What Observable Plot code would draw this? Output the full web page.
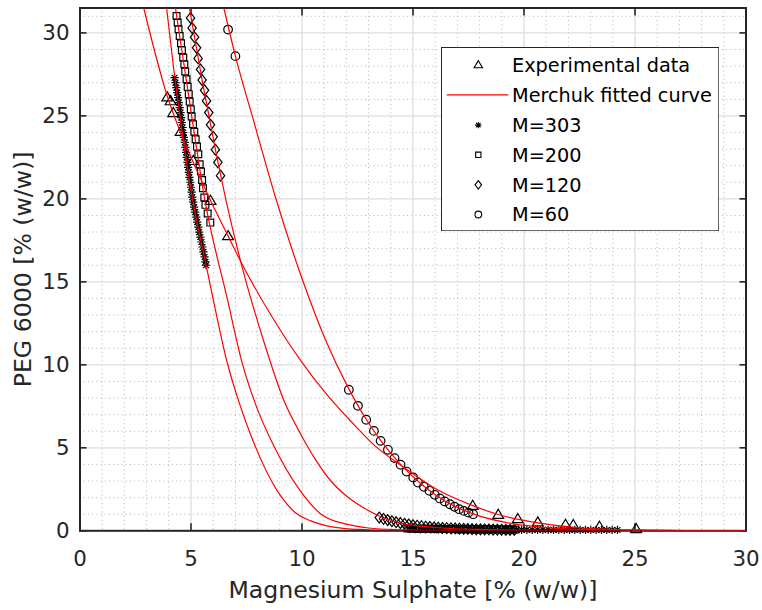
<!DOCTYPE html>
<html><head><meta charset="utf-8">
<script src="https://cdn.jsdelivr.net/npm/d3@7"></script>
<script src="https://cdn.jsdelivr.net/npm/@observablehq/plot@0.6"></script>
<style>
body{margin:0;background:#fff;}
#wrap{position:relative;width:762px;height:610px;font-family:"DejaVu Sans",sans-serif;}
#legend{position:absolute;left:441px;top:47px;}
</style></head>
<body><div id="wrap"><div id="legend"></div></div>
<script>
// ---- axis ticks ----
const xMajor = [0,5,10,15,20,25,30];
const yMajor = [0,5,10,15,20,25,30];
const xMinor = [1,2,3,4,6,7,8,9,11,12,13,14,16,17,18,19,21,22,23,24,26,27,28,29];
const yMinor = [1,2,3,4,6,7,8,9,11,12,13,14,16,17,18,19,21,22,23,24,26,27,28,29,31];
const xLabel = "Magnesium Sulphate [% (w/w)]";
const yLabel = "PEG 6000 [% (w/w)]";
const legendLabels = ["Experimental data","Merchuk fitted curve","M=303","M=200","M=120","M=60"];

// ---- experimental data (triangles) ----
const expX = [3.93,4.08,4.2,4.53,5.1,5.88,6.67,17.69,18.84,19.72,20.62,21.87,22.22,23.4,25.05];
const expY = [26.13,25.9,25.19,24.05,22.3,19.9,17.77,1.52,0.98,0.72,0.52,0.38,0.36,0.26,0.12];

// ---- M=303 (asterisks) ----
const m303TopX = [4.26,4.30,4.34,4.38,4.42,4.45,4.49,4.53,4.56,4.59,4.62,4.65,4.68,4.72,4.75,4.78,4.81,4.84,4.87,4.90,4.93,4.97,5.00,5.03,5.06,5.10,5.14,5.19,5.24,5.28,5.33,5.37,5.42,5.47,5.52,5.56,5.61,5.65,5.68];
const m303TopY = [27.3,27.0,26.7,26.4,26.1,25.8,25.5,25.2,24.9,24.6,24.3,24.0,23.7,23.4,23.1,22.8,22.5,22.2,21.9,21.6,21.3,21.0,20.7,20.4,20.1,19.8,19.5,19.2,18.9,18.6,18.3,18.0,17.7,17.4,17.1,16.8,16.5,16.2,16.0];
const m303BotX = [14.85,15.09,15.33,15.57,15.81,16.05,16.29,16.53,16.77,17.01,17.25,17.49,17.73,17.97,18.21,18.45,18.69,18.93,19.17,19.41,19.65,19.89,20.13,20.37,20.61,20.85,21.09,21.33,21.57,21.81,22.05,22.29,22.53,22.77,23.01,23.25,23.49,23.73,23.97,24.21];
const m303BotY = [0.1,0.1,0.09,0.09,0.09,0.09,0.08,0.08,0.08,0.08,0.08,0.08,0.07,0.07,0.07,0.07,0.07,0.07,0.07,0.07,0.06,0.06,0.06,0.06,0.06,0.06,0.06,0.06,0.06,0.05,0.05,0.05,0.05,0.05,0.05,0.05,0.05,0.05,0.05,0.05];

// ---- M=200 (squares) ----
const m200TopX = [4.35,4.40,4.44,4.49,4.55,4.59,4.65,4.70,4.74,4.80,4.85,4.90,4.94,4.99,5.03,5.09,5.15,5.21,5.27,5.33,5.39,5.45,5.50,5.54,5.60,5.65,5.75,5.87];
const m200TopY = [31.02,30.62,30.22,29.82,29.38,28.96,28.51,28.11,27.67,27.21,26.75,26.31,25.86,25.40,24.96,24.50,24.04,23.59,23.15,22.69,22.09,21.65,21.14,20.64,20.08,19.64,19.12,18.57];
const m200BotX = [14.75,14.93,15.11,15.29,15.47,15.65,15.83,16.01,16.19,16.37,16.55,16.73,16.91,17.09,17.27,17.45,17.63,17.81,17.99,18.17,18.35,18.53,18.71,18.89,19.07,19.25,19.43,19.61];
const m200BotY = [0.14,0.14,0.13,0.13,0.13,0.12,0.12,0.12,0.12,0.11,0.11,0.11,0.11,0.1,0.1,0.1,0.1,0.1,0.09,0.09,0.09,0.09,0.09,0.09,0.08,0.08,0.08,0.08];

// ---- M=120 (diamonds) ----
const m120TopX = [4.98,5.05,5.16,5.25,5.32,5.43,5.50,5.61,5.70,5.80,5.88,6.00,6.10,6.21,6.33];
const m120TopY = [30.9,30.3,29.74,29.1,28.46,27.8,27.16,26.54,25.9,25.2,24.46,23.74,22.96,22.2,21.4];
const m120BotX = [13.48,13.67,13.86,14.05,14.24,14.43,14.62,14.81,15.0,15.19,15.38,15.57,15.76,15.95,16.14,16.33,16.52,16.71,16.9,17.09,17.28,17.47,17.66,17.85,18.04,18.23,18.42,18.61,18.8,18.99,19.18,19.37,19.56];
const m120BotY = [0.8,0.72,0.65,0.58,0.52,0.47,0.42,0.38,0.34,0.31,0.28,0.25,0.23,0.21,0.19,0.17,0.16,0.15,0.14,0.13,0.12,0.11,0.1,0.09,0.09,0.08,0.08,0.07,0.07,0.06,0.06,0.05,0.05];

// ---- M=60 (circles) ----
const m60TopX = [6.67,7.0];
const m60TopY = [30.2,28.6];
const m60BotX = [12.11,12.52,12.89,13.24,13.54,13.87,14.17,14.44,14.71,15.01,15.22,15.49,15.74,15.98,16.21,16.43,16.66,16.87,17.08,17.29,17.5,17.71];
const m60BotY = [8.5,7.53,6.69,6.02,5.42,4.88,4.38,3.98,3.57,3.21,2.91,2.65,2.41,2.17,1.95,1.77,1.6,1.45,1.3,1.2,1.1,1.0];

// ---- Merchuk fitted curves ----
const fitExpX = [2.87,3.93,4.53,5.1,5.88,6.67,7.25,8.6,9.95,11.0,12.2,13.3,14.45,16.0,17.69,18.84,20.62,22.6,25.05,27.5,30];
const fitExpY = [31.5,26.2,24.0,22.2,19.9,17.77,16.2,13.0,10.24,8.4,6.6,5.1,3.95,2.55,1.52,0.98,0.48,0.17,0.05,0.015,0.004];
const fit303X = [3.9,4.26,4.5,5.07,5.68,6.0,6.62,7.2,7.8,8.88,9.18,9.65,10.4,11.3,12.5,14,16,20,30];
const fit303Y = [31.5,27.4,25.0,20.0,16.0,13.95,10.2,7.6,5.4,2.42,1.85,1.15,0.6,0.25,0.08,0.02,0.005,0.001,0];
const fit200X = [4.3,5.03,5.6,6.65,7.28,8.0,8.7,9.9,10.86,12,13,14.5,16,18,30];
const fit200Y = [31.5,25.0,20.1,13.9,10.24,7.3,5.2,2.45,1.0,0.4,0.17,0.06,0.02,0.005,0];
const fit120X = [4.93,5.5,6.1,6.58,7.4,8.27,9.2,9.95,10.6,11.3,12.0,12.7,13.5,14.5,16,18,20,22,25,30];
const fit120Y = [31.5,27.16,22.96,19.9,15.4,11.45,7.8,5.8,4.3,3.0,2.1,1.45,0.88,0.45,0.2,0.08,0.035,0.012,0.003,0];
const fit60X = [6.48,7.0,7.8,8.85,10.0,11.06,12.11,12.89,13.54,14.44,15.49,16.43,17.71,19.0,20.5,22.6,25,30];
const fit60Y = [31.5,28.6,24.8,19.9,15.2,11.5,8.55,6.72,5.45,4.0,2.68,1.8,1.02,0.55,0.25,0.08,0.02,0];

// ---- marker shapes (MATLAB-like) ----
const shapes = {
  tri(c,k){c.moveTo(0,-5.3*k);c.lineTo(5.4*k,3.8*k);c.lineTo(-5.4*k,3.8*k);c.closePath();},
  sq(c,k){const h=3.4*k;c.moveTo(-h,-h);c.lineTo(h,-h);c.lineTo(h,h);c.lineTo(-h,h);c.closePath();},
  dia(c,k){c.moveTo(0,-5.4*k);c.lineTo(4.2*k,0);c.lineTo(0,5.4*k);c.lineTo(-4.2*k,0);c.closePath();},
  circ(c,k){const r=4.3*k;c.moveTo(r,0);c.arc(0,0,r,0,2*Math.PI);c.closePath();},
  ast(c,k){const a=4.1*k,b=2.9*k;c.moveTo(0,-a);c.lineTo(0,a);c.moveTo(-a,0);c.lineTo(a,0);c.moveTo(-b,-b);c.lineTo(b,b);c.moveTo(-b,b);c.lineTo(b,-b);}
};
const sym = f => ({draw(ctx,size){f(ctx,Math.sqrt(size/Math.PI)/4);}});

const tab = (xs,ys) => xs.map((x,i)=>({x,y:ys[i]}));
const curves = [
  ...tab(fitExpX,fitExpY).map(d=>({...d,s:"exp"})),
  ...tab(fit303X,fit303Y).map(d=>({...d,s:"303"})),
  ...tab(fit200X,fit200Y).map(d=>({...d,s:"200"})),
  ...tab(fit120X,fit120Y).map(d=>({...d,s:"120"})),
  ...tab(fit60X,fit60Y).map(d=>({...d,s:"60"}))
];
const dotOpts = (shape) => ({x:"x",y:"y",r:4,symbol:sym(shapes[shape]),stroke:"black",fill:"none",strokeWidth:1.2});
const ink = "#262626";

const chart = Plot.plot({
  width: 762, height: 610,
  marginLeft: 79.5, marginRight: 16.5, marginTop: 7.5, marginBottom: 79.7,
  x: {domain:[0,30]},
  y: {domain:[0,31.5]},
  style: {fontFamily:"DejaVu Sans", fontSize:"21.4px", color: ink, background:"white", overflow:"visible"},
  marks: [
    Plot.gridX(xMinor,{stroke:"#b4b4b4",strokeOpacity:1,strokeWidth:1,strokeDasharray:"1,3.2"}),
    Plot.gridY(yMinor,{stroke:"#b4b4b4",strokeOpacity:1,strokeWidth:1,strokeDasharray:"1,3.2"}),
    Plot.gridX(xMajor,{stroke:"#dedede",strokeOpacity:1,strokeWidth:1.3}),
    Plot.gridY(yMajor,{stroke:"#dedede",strokeOpacity:1,strokeWidth:1.3}),
    Plot.frame({stroke:ink,strokeWidth:2}),
    Plot.axisX(xMajor,{anchor:"bottom",tickSize:7,dy:-7,tickFormat:()=>"",label:null,strokeWidth:1.6,stroke:ink}),
    Plot.axisX(xMajor,{anchor:"top",tickSize:7,dy:7,tickFormat:()=>"",label:null,strokeWidth:1.6,stroke:ink}),
    Plot.axisY(yMajor,{anchor:"left",tickSize:7,dx:7,tickFormat:()=>"",label:null,strokeWidth:1.6,stroke:ink}),
    Plot.axisY(yMajor,{anchor:"right",tickSize:7,dx:-7,tickFormat:()=>"",label:null,strokeWidth:1.6,stroke:ink}),
    Plot.axisX(xMajor,{anchor:"bottom",tickSize:0,tickPadding:20,label:null,fontSize:21.4,fill:ink}),
    Plot.axisY(yMajor,{anchor:"left",tickSize:0,tickPadding:10.5,label:null,fontSize:21.4,fill:ink}),
    Plot.text([xLabel],{text:d=>d,frameAnchor:"bottom",textAnchor:"middle",lineAnchor:"bottom",dy:66.7,fontSize:23.6,fill:ink}),
    Plot.text([yLabel],{text:d=>d,frameAnchor:"left",textAnchor:"middle",lineAnchor:"bottom",rotate:-90,dx:-49.5,fontSize:23.6,fill:ink}),
    Plot.dot(tab(expX,expY),dotOpts("tri")),
    Plot.dot(tab(m303TopX,m303TopY),dotOpts("ast")),
    Plot.dot(tab(m303BotX,m303BotY),dotOpts("ast")),
    Plot.dot(tab(m200TopX,m200TopY),dotOpts("sq")),
    Plot.dot(tab(m200BotX,m200BotY),dotOpts("sq")),
    Plot.dot(tab(m120TopX,m120TopY),dotOpts("dia")),
    Plot.dot(tab(m120BotX,m120BotY),dotOpts("dia")),
    Plot.dot(tab(m60TopX,m60TopY),dotOpts("circ")),
    Plot.dot(tab(m60BotX,m60BotY),dotOpts("circ")),
    Plot.line(curves,{x:"x",y:"y",z:"s",stroke:"#ff0000",strokeWidth:1.2,curve:"monotone-x",clip:true})
  ]
});
document.getElementById("wrap").prepend(chart);

// ---- legend ----
const W = 278.3, H = 184.3;
const rows = [17.8,47.8,78.1,107.8,137.8,167.5];
const legShapes = ["tri",null,"ast","sq","dia","circ"];
const svg = d3.select("#legend").append("svg").attr("width",W).attr("height",H).style("display","block");
svg.append("rect").attr("x",0.5).attr("y",0.5).attr("width",W-1).attr("height",H-1).attr("fill","white").attr("stroke",ink).attr("stroke-width",1);
legendLabels.forEach((lab,i)=>{
  const cy = rows[i];
  if (legShapes[i]) {
    const p = d3.path(); shapes[legShapes[i]](p,0.78);
    svg.append("path").attr("d",p.toString()).attr("transform",`translate(37.3,${cy})`).attr("fill","none").attr("stroke","black").attr("stroke-width",1.1);
  } else {
    svg.append("line").attr("x1",5.7).attr("x2",67.3).attr("y1",cy).attr("y2",cy).attr("stroke","#ff0000").attr("stroke-width",1.2);
  }
  svg.append("text").attr("x",71).attr("y",cy).attr("dy","0.35em").attr("font-family","DejaVu Sans").attr("font-size",19.3).attr("fill","black").text(lab);
});
</script></body></html>
